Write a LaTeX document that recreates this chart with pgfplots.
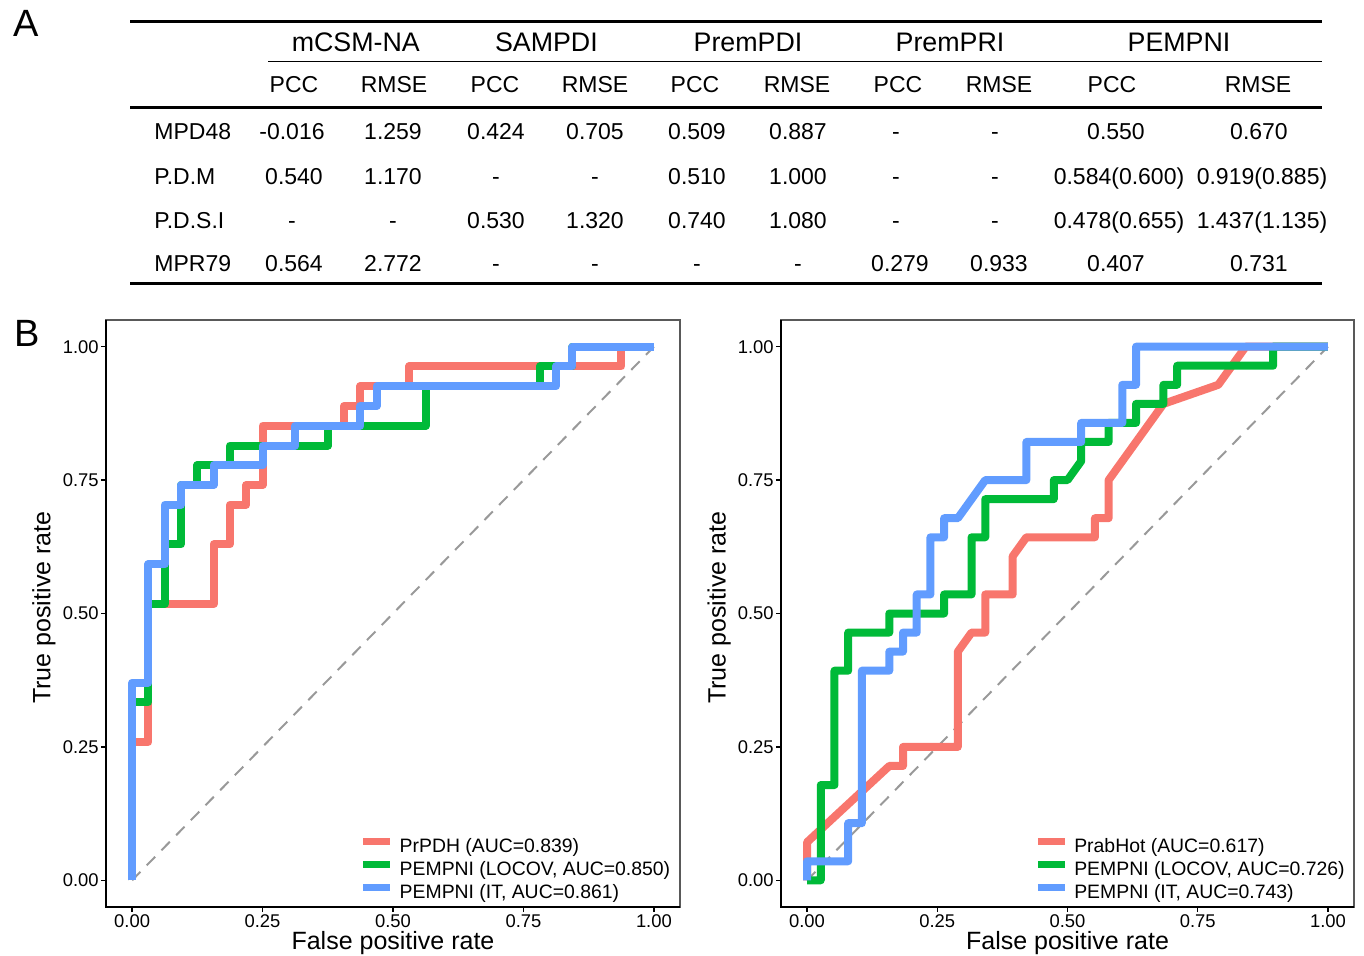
\documentclass[border=0pt]{standalone}
\usepackage{fontspec}
\setmainfont{Liberation Sans}
\usepackage{pgfplots}
\pgfplotsset{compat=1.18}

\definecolor{cR}{HTML}{F8766D}
\definecolor{cG}{HTML}{00BA38}
\definecolor{cB}{HTML}{619CFF}

\newcommand\tabfont{\fontsize{11.5}{13}\selectfont}
\newcommand\grpfont{\fontsize{13.4}{15}\selectfont}

\pgfplotsset{
  roc/.style={
    scale only axis, height=293.5pt,
    xmin=-0.05, xmax=1.05, ymin=-0.05, ymax=1.05,
    xtick={0,0.25,0.5,0.75,1}, ytick={0,0.25,0.5,0.75,1},
    xticklabels={0.00,0.25,0.50,0.75,1.00},
    yticklabels={0.00,0.25,0.50,0.75,1.00},
    tick align=outside, tick pos=left,
    major tick length=2.5pt,
    every tick/.style={black, line width=0.75pt},
    axis line style={black!65, line width=0.6pt},
    tick label style={font=\fontsize{9.2}{10}\selectfont, inner sep=1pt},
    label style={font=\fontsize{12.5}{14}\selectfont},
    xlabel={False positive rate}, ylabel={True positive rate},
    xlabel style={at={(rel axis cs:0.5,-0.062)}, anchor=center},
    ylabel style={at={(rel axis cs:-0.108,0.51)}, anchor=center},
    legend style={at={(rel axis cs:0.442,0.002)}, anchor=south west,
      draw=none, fill=none, inner sep=0pt, outer sep=0pt,
      font=\fontsize{9.7}{11}\selectfont, row sep=0pt,
      nodes={inner sep=0pt, text height=8pt, text depth=3.5pt},
      /tikz/every odd column/.append style={column sep=3pt}},
    legend cell align=left,
    legend image code/.code={\draw[#1, line width=3.5pt, line cap=butt] (0pt,3.2pt) -- (13.5pt,3.2pt);},
    every axis plot/.append style={line width=4pt, line join=round},
    after end axis/.code={\draw[black, line width=1pt] (rel axis cs:0,1) -- (rel axis cs:0,0) -- (rel axis cs:1,0);},
  },
  diag/.style={forget plot, color=black!40, line width=1pt, dash pattern=on 6pt off 4.5pt},
}

\begin{document}
\begin{tikzpicture}
\path[use as bounding box] (0,0) rectangle (682pt,477.5pt);

% ---- panel A : table ----
\begin{scope}[x=0.5pt,y=-0.5pt,shift={(0pt,477.5pt)}]
  \node[font=\fontsize{19}{20}\selectfont, anchor=base] at (26,37) {A};
  \node[font=\fontsize{19}{20}\selectfont, anchor=base] at (27,346.5) {B};
  \draw[line width=1.5pt] (130,21.5) -- (1322,21.5);
  \draw[line width=0.75pt] (268,61.7) -- (1322,61.7);
  \draw[line width=1.25pt] (130,107.3) -- (1322,107.3);
  \draw[line width=1.5pt] (130,283.3) -- (1322,283.3);
  \foreach \x/\t in {355.8/mCSM-NA, 546.4/SAMPDI, 748/PremPDI, 950/PremPRI, 1179/PEMPNI}
    \node[font=\grpfont, anchor=base] at (\x,51.2) {\t};
  \foreach \x/\t in {294/PCC, 394/RMSE, 495/PCC, 595/RMSE, 695/PCC, 797/RMSE, 898/PCC, 999/RMSE, 1112/PCC, 1258/RMSE}
    \node[font=\tabfont, anchor=base] at (\x,92.5) {\t};
  \foreach \y/\t in {139.9/MPD48, 184.9/P.D.M, 228.2/P.D.S.I, 271.5/MPR79}
    \node[font=\tabfont, anchor=base west, inner sep=0pt] at (154,\y) {\t};
  \foreach \x/\t in {292/-0.016, 393/1.259, 496/0.424, 595/0.705, 697/0.509, 798/0.887, 896/-, 995/-, 1116/0.550, 1259/0.670}
    \node[font=\tabfont, anchor=base] at (\x,139.9) {\t};
  \foreach \x/\t in {294/0.540, 393/1.170, 496/-, 595/-, 697/0.510, 798/1.000, 896/-, 995/-, 1119/0.584(0.600), 1262/0.919(0.885)}
    \node[font=\tabfont, anchor=base] at (\x,184.9) {\t};
  \foreach \x/\t in {292/-, 393/-, 496/0.530, 595/1.320, 697/0.740, 798/1.080, 896/-, 995/-, 1119/0.478(0.655), 1262/1.437(1.135)}
    \node[font=\tabfont, anchor=base] at (\x,228.2) {\t};
  \foreach \x/\t in {294/0.564, 393/2.772, 496/-, 595/-, 697/-, 798/-, 900/0.279, 999/0.933, 1116/0.407, 1259/0.731}
    \node[font=\tabfont, anchor=base] at (\x,271.5) {\t};
\end{scope}

% ---- panel B left ----
\begin{axis}[roc, width=287pt, at={(53pt,24pt)}, anchor=south west]
\addplot[diag] coordinates {(0,0) (1,1)};
\addplot[cR] coordinates {(0,0) (0,0.259259) (0.03125,0.259259) (0.03125,0.518519) (0.15625,0.518519) (0.15625,0.62963) (0.1875,0.62963) (0.1875,0.703704) (0.21875,0.703704) (0.21875,0.740741) (0.25,0.740741) (0.25,0.851852) (0.40625,0.851852) (0.40625,0.888889) (0.4375,0.888889) (0.4375,0.925926) (0.53125,0.925926) (0.53125,0.962963) (0.9375,0.962963) (0.9375,1) (1,1)};
\addlegendentry{PrPDH (AUC=0.839)}
\addplot[cG] coordinates {(0,0) (0,0.333333) (0.03125,0.333333) (0.03125,0.518519) (0.0625,0.518519) (0.0625,0.62963) (0.09375,0.62963) (0.09375,0.740741) (0.125,0.740741) (0.125,0.777778) (0.1875,0.777778) (0.1875,0.814815) (0.375,0.814815) (0.375,0.851852) (0.5625,0.851852) (0.5625,0.925926) (0.78125,0.925926) (0.78125,0.962963) (0.84375,0.962963) (0.84375,1) (1,1)};
\addlegendentry{PEMPNI (LOCOV, AUC=0.850)}
\addplot[cB] coordinates {(0,0) (0,0.37037) (0.03125,0.37037) (0.03125,0.592593) (0.0625,0.592593) (0.0625,0.703704) (0.09375,0.703704) (0.09375,0.740741) (0.15625,0.740741) (0.15625,0.777778) (0.25,0.777778) (0.25,0.814815) (0.3125,0.814815) (0.3125,0.851852) (0.4375,0.851852) (0.4375,0.888889) (0.46875,0.888889) (0.46875,0.925926) (0.8125,0.925926) (0.8125,0.962963) (0.84375,0.962963) (0.84375,1) (1,1)};
\addlegendentry{PEMPNI (IT, AUC=0.861)}
\end{axis}

% ---- panel B right ----
\begin{axis}[roc, width=286.5pt, at={(390.5pt,24pt)}, anchor=south west]
\addplot[diag] coordinates {(0,0) (1,1)};
\addplot[cR] coordinates {(0,0) (0,0.071429) (0.157895,0.214286) (0.184211,0.214286) (0.184211,0.25) (0.289474,0.25) (0.289474,0.428571) (0.315789,0.464286) (0.342105,0.464286) (0.342105,0.535714) (0.394737,0.535714) (0.394737,0.607143) (0.421053,0.642857) (0.552632,0.642857) (0.552632,0.678571) (0.578947,0.678571) (0.578947,0.75) (0.684211,0.892857) (0.789474,0.928571) (0.842105,1) (1,1)};
\addlegendentry{PrabHot (AUC=0.617)}
\addplot[cG] coordinates {(0,0) (0.026316,0) (0.026316,0.178571) (0.052632,0.178571) (0.052632,0.392857) (0.078947,0.392857) (0.078947,0.464286) (0.157895,0.464286) (0.157895,0.5) (0.263158,0.5) (0.263158,0.535714) (0.315789,0.535714) (0.315789,0.642857) (0.342105,0.642857) (0.342105,0.714286) (0.473684,0.714286) (0.473684,0.75) (0.5,0.75) (0.526316,0.785714) (0.526316,0.821429) (0.578947,0.821429) (0.578947,0.857143) (0.631579,0.857143) (0.631579,0.892857) (0.684211,0.892857) (0.684211,0.928571) (0.710526,0.928571) (0.710526,0.964286) (0.894737,0.964286) (0.894737,1) (1,1)};
\addlegendentry{PEMPNI (LOCOV, AUC=0.726)}
\addplot[cB] coordinates {(0,0) (0,0.035714) (0.078947,0.035714) (0.078947,0.107143) (0.105263,0.107143) (0.105263,0.392857) (0.157895,0.392857) (0.157895,0.428571) (0.184211,0.428571) (0.184211,0.464286) (0.210526,0.464286) (0.210526,0.535714) (0.236842,0.535714) (0.236842,0.642857) (0.263158,0.642857) (0.263158,0.678571) (0.289474,0.678571) (0.342105,0.75) (0.421053,0.75) (0.421053,0.821429) (0.526316,0.821429) (0.526316,0.857143) (0.605263,0.857143) (0.605263,0.928571) (0.631579,0.928571) (0.631579,1) (1,1)};
\addlegendentry{PEMPNI (IT, AUC=0.743)}
\end{axis}
\end{tikzpicture}
\end{document}
